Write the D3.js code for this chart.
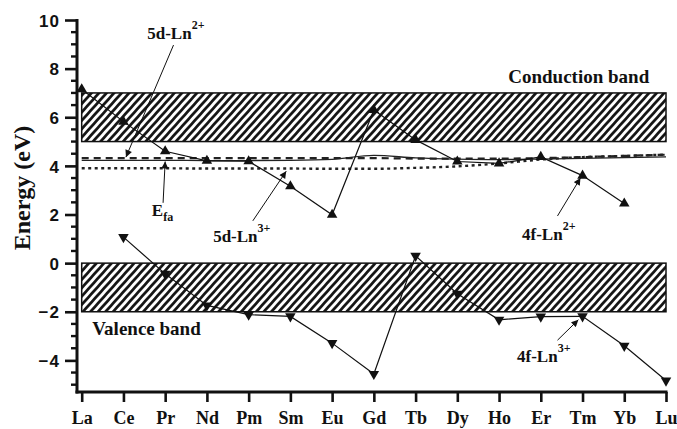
<!DOCTYPE html>
<html>
<head>
<meta charset="utf-8">
<script src="https://cdn.jsdelivr.net/npm/d3@7"></script>
<style>
  html, body { margin: 0; padding: 0; background: #fff; }
  svg { display: block; }
</style>
</head>
<body>
<svg id="chart" width="677" height="429"></svg>
<script>
// Lanthanide series along the x axis
const elements = ["La", "Ce", "Pr", "Nd", "Pm", "Sm", "Eu", "Gd", "Tb", "Dy", "Ho", "Er", "Tm", "Yb", "Lu"];

// 4f ground state of Ln2+ (no value for Lu)
const f4Ln2 = [7.15, 5.82, 4.6, 4.21, 4.19, 3.16, 1.99, 6.3, 5.07, 4.18, 4.1, 4.37, 3.6, 2.45, null];
// 4f ground state of Ln3+ (no value for La)
const f4Ln3 = [null, 1.07, -0.44, -1.74, -2.12, -2.19, -3.29, -4.56, 0.3, -1.26, -2.33, -2.2, -2.19, -3.4, -4.83];
// 5d levels and the Fermi-type level
const d5Ln2 = [4.32, 4.32, 4.32, 4.32, 4.32, 4.32, 4.32, 4.32, 4.3, 4.3, 4.3, 4.32, 4.36, 4.41, 4.46];
const eFa   = [4.23, 4.23, 4.23, 4.22, 4.22, 4.23, 4.27, 4.43, 4.33, 4.28, 4.26, 4.28, 4.31, 4.34, 4.37];
const d5Ln3 = [3.9, 3.9, 3.9, 3.89, 3.89, 3.89, 3.88, 3.88, 3.92, 3.98, 4.1, 4.26, 4.36, 4.41, 4.46];

// Band edges (eV)
const conductionBand = [5, 7];
const valenceBand = [-2, 0];

// Y axis ticks
const yMajorTicks = [-4, -2, 0, 2, 4, 6, 8, 10];
const yDomain = [-5.3, 10];

const SERIF = "'Liberation Serif', 'DejaVu Serif', Times, serif";
const SANS = "'Liberation Sans', Arial, sans-serif";

const svg = d3.select("#chart");
const W = 677, H = 429;
svg.append("rect").attr("width", W).attr("height", H).attr("fill", "#fff");

const x = d3.scalePoint().domain(elements).range([81.7, 666]);
const y = d3.scaleLinear().domain(yDomain).range([392, 20]);
const xi = i => x(elements[0]) + i * x.step();

// Hatch pattern for bands
const defs = svg.append("defs");
const pat = defs.append("pattern")
  .attr("id", "hatch")
  .attr("patternUnits", "userSpaceOnUse")
  .attr("width", 5.6).attr("height", 10)
  .attr("patternTransform", "rotate(42)");
pat.append("rect").attr("width", 5.6).attr("height", 10).attr("fill", "#fff");
pat.append("line").attr("x1", 1.4).attr("x2", 1.4).attr("y1", 0).attr("y2", 10)
  .attr("stroke", "#111").attr("stroke-width", 2.7);

const bands = svg.append("g");
[conductionBand, valenceBand].forEach(b => {
  bands.append("rect")
    .attr("x", x("La"))
    .attr("y", y(b[1]))
    .attr("width", x("Lu") - x("La"))
    .attr("height", y(b[0]) - y(b[1]))
    .attr("fill", "url(#hatch)")
    .attr("stroke", "#111")
    .attr("stroke-width", 1.5);
});

// Axes
const yAxis = d3.axisLeft(y).tickValues(yMajorTicks).tickSize(12).tickFormat(d3.format("d"));
const gy = svg.append("g").attr("transform", "translate(77,0)").call(yAxis)
  .attr("font-family", SANS).attr("font-size", 17).attr("font-weight", "bold");
gy.select(".domain").remove();
gy.selectAll(".tick line").attr("stroke", "#111").attr("stroke-width", 2.6);
gy.selectAll(".tick text")
  .attr("fill", "#111")
  .attr("letter-spacing", 1)
  .attr("x", -17)
  .attr("dy", "0.36em");

const minorTicks = d3.range(-5, 10.01, 0.5).filter(v => !yMajorTicks.includes(v));
svg.append("g").selectAll("line").data(minorTicks).join("line")
  .attr("x1", 71).attr("x2", 77)
  .attr("y1", d => y(d)).attr("y2", d => y(d))
  .attr("stroke", "#111").attr("stroke-width", 2.4);

svg.append("line").attr("x1", 77).attr("x2", 77).attr("y1", y(10) - 1).attr("y2", 393.5)
  .attr("stroke", "#111").attr("stroke-width", 3);

const xAxis = d3.axisBottom(x).tickSize(10);
const gx = svg.append("g").attr("transform", "translate(0,392)").call(xAxis)
  .attr("font-family", SERIF).attr("font-size", 18).attr("font-weight", "bold");
gx.select(".domain").remove();
gx.selectAll(".tick line").attr("stroke", "#111").attr("stroke-width", 2.6);
gx.selectAll(".tick text")
  .attr("fill", "#111")
  .attr("y", 0)
  .attr("dy", 32);
svg.append("line").attr("x1", 75.5).attr("x2", 667.5).attr("y1", 392).attr("y2", 392)
  .attr("stroke", "#111").attr("stroke-width", 3);

// Axis title
svg.append("text")
  .attr("font-family", SERIF).attr("font-weight", "bold").attr("fill", "#111")
  .attr("font-size", 24)
  .attr("text-anchor", "middle")
  .attr("transform", "translate(30,188) rotate(-90)")
  .text("Energy (eV)");

// Level curves
const smooth = d3.line().defined(d => d != null).x((d, i) => xi(i)).y(d => y(d)).curve(d3.curveMonotoneX);
svg.append("path").attr("d", smooth(d5Ln2)).attr("fill", "none")
  .attr("stroke", "#222").attr("stroke-width", 2.2).attr("stroke-dasharray", "7,5");
svg.append("path").attr("d", smooth(eFa)).attr("fill", "none")
  .attr("stroke", "#222").attr("stroke-width", 1.3);
svg.append("path").attr("d", smooth(d5Ln3)).attr("fill", "none")
  .attr("stroke", "#222").attr("stroke-width", 2.4).attr("stroke-dasharray", "3,3.5");

// 4f series with triangle markers
const straight = d3.line().defined(d => d != null).x((d, i) => xi(i)).y(d => y(d));
const tri = d3.symbol().type(d3.symbolTriangle).size(48);
function series(vals, rot) {
  svg.append("path").attr("d", straight(vals)).attr("fill", "none")
    .attr("stroke", "#111").attr("stroke-width", 1.2);
  svg.append("g").selectAll("path")
    .data(vals.map((v, i) => ({ v, i })).filter(d => d.v != null))
    .join("path")
    .attr("d", tri)
    .attr("fill", "#111")
    .attr("transform", d => `translate(${xi(d.i)},${y(d.v)}) rotate(${rot})`);
}
series(f4Ln2, 0);
series(f4Ln3, 180);

// Annotations: label text and arrows (positions in element index / eV)
defs.append("marker")
  .attr("id", "arrow")
  .attr("viewBox", "0 0 10 10")
  .attr("refX", 10).attr("refY", 5)
  .attr("markerWidth", 9).attr("markerHeight", 7)
  .attr("markerUnits", "userSpaceOnUse")
  .attr("orient", "auto")
  .append("path").attr("d", "M0,0 L10,5 L0,10 Z").attr("fill", "#111");

const arrows = [
  { from: [2.2, 8.97], to: [1.06, 4.36] },   // 5d-Ln2+
  { from: [1.95, 2.48], to: [2.0, 4.18] },   // Efa
  { from: [4.1, 1.74], to: [4.9, 3.78] },    // 5d-Ln3+
  { from: [11.4, 1.94], to: [11.95, 3.5] },  // 4f-Ln2+
  { from: [11.4, -3.17], to: [11.9, -2.33] } // 4f-Ln3+
];
svg.append("g").selectAll("line").data(arrows).join("line")
  .attr("x1", d => xi(d.from[0])).attr("y1", d => y(d.from[1]))
  .attr("x2", d => xi(d.to[0])).attr("y2", d => y(d.to[1]))
  .attr("stroke", "#111").attr("stroke-width", 1)
  .attr("marker-end", "url(#arrow)");

function label(ix, ev, main, sup, sub) {
  const t = svg.append("text")
    .attr("font-family", SERIF).attr("font-weight", "bold").attr("fill", "#111")
    .attr("font-size", 17)
    .attr("x", xi(ix)).attr("y", y(ev));
  t.append("tspan").text(main);
  if (sup) t.append("tspan").attr("font-size", 12).attr("dy", -10).text(sup);
  if (sub) t.append("tspan").attr("font-size", 12).attr("dy", 5).text(sub);
  return t;
}
label(1.57, 9.2, "5d-Ln", "2+");
label(1.68, 1.95, "E", null, "fa");
label(3.15, 0.88, "5d-Ln", "3+");
label(10.55, 0.97, "4f-Ln", "2+");
label(10.43, -4.08, "4f-Ln", "3+");

function bandLabel(ix, ev, txt) {
  svg.append("text")
    .attr("font-family", SERIF).attr("font-weight", "bold").attr("fill", "#111")
    .attr("font-size", 19)
    .attr("x", xi(ix)).attr("y", y(ev)).text(txt);
}
bandLabel(10.22, 7.42, "Conduction band");
bandLabel(0.25, -2.97, "Valence band");
</script>
</body>
</html>
